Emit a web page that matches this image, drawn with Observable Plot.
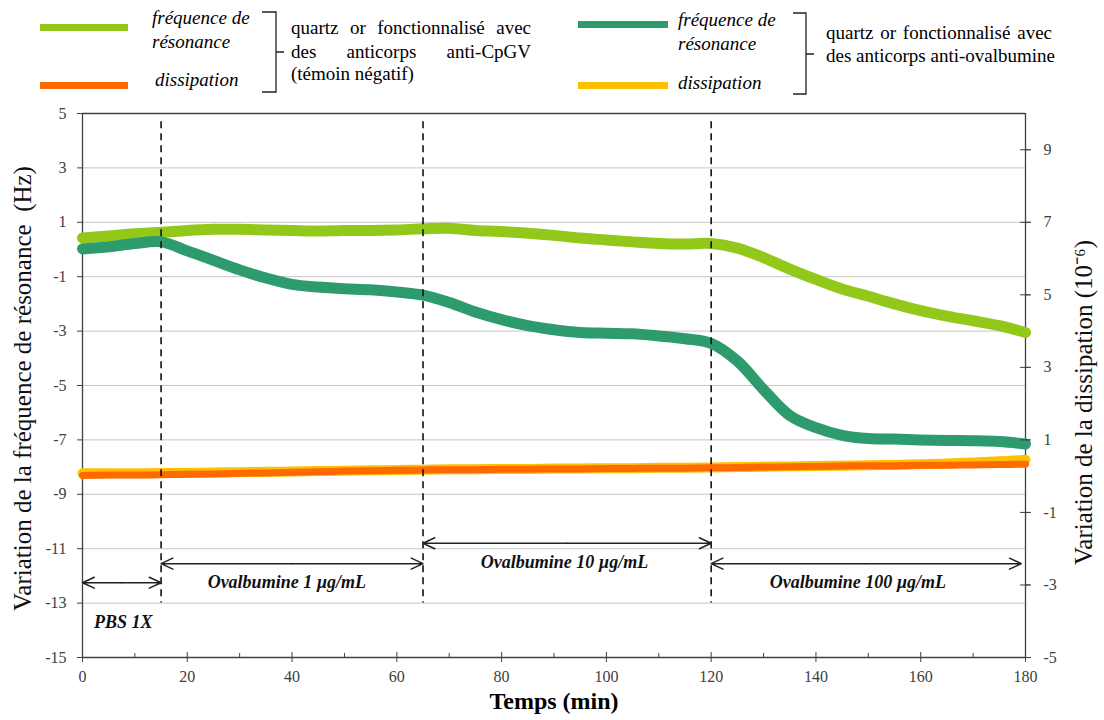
<!DOCTYPE html>
<html><head><meta charset="utf-8">
<script src="https://cdn.jsdelivr.net/npm/d3@7"></script>
<script src="https://cdn.jsdelivr.net/npm/@observablehq/plot@0.6"></script>
<style>
body{margin:0;background:#fff;font-family:"Liberation Serif","Times New Roman",serif;color:#000;}
#wrap{position:relative;width:1104px;height:720px;overflow:hidden;}
#legend{position:absolute;left:0;top:0;width:1104px;height:100px;}
#chart{position:absolute;left:0;top:100px;}
#chart svg, #chart text{font-family:"Liberation Serif","Times New Roman",serif !important;}
.sw{position:absolute;height:7px;}
.it{position:absolute;font-style:italic;font-size:19px;line-height:24px;white-space:nowrap;}
.desc{position:absolute;font-size:19px;line-height:23px;text-align:justify;text-align-last:justify;white-space:nowrap;}
.desc.l{text-align-last:left;}
</style>
</head><body>
<div id="wrap">
  <div id="legend">
    <div class="sw" style="left:40px;top:24px;width:88px;background:#92C81A"></div>
    <div class="it" style="left:152px;top:6px">fréquence de</div>
    <div class="it" style="left:152px;top:30px">résonance</div>
    <div class="sw" style="left:40px;top:82px;width:88px;background:#FF6A00"></div>
    <div class="it" style="left:155px;top:68px">dissipation</div>
    <svg style="position:absolute;left:0;top:0" width="1104" height="100">
      <path d="M262 12 H276 V92 H262 M276 52 H284" fill="none" stroke="#222" stroke-width="1.3"/>
      <path d="M793 13 H806 V94 H793 M806 54 H814" fill="none" stroke="#222" stroke-width="1.3"/>
    </svg>
    <div class="desc" style="left:291px;top:16px;width:240px">quartz or fonctionnalisé avec</div>
    <div class="desc" style="left:291px;top:40px;width:240px">des anticorps anti-CpGV</div>
    <div class="desc l" style="left:291px;top:62px;width:240px">(témoin négatif)</div>

    <div class="sw" style="left:578px;top:21px;width:90px;background:#2E9B6E"></div>
    <div class="it" style="left:678px;top:8px">fréquence de</div>
    <div class="it" style="left:678px;top:32px">résonance</div>
    <div class="sw" style="left:578px;top:82px;width:90px;background:#FFC000"></div>
    <div class="it" style="left:678px;top:71px">dissipation</div>
    <div class="desc" style="left:826px;top:21px;width:226px">quartz or fonctionnalisé avec</div>
    <div class="desc l" style="left:826px;top:44px;width:226px">des anticorps anti-ovalbumine</div>
  </div>
  <div id="chart"></div>
</div>
<script>
// time (min)
const time = [0,5,10,15,20,25,30,35,40,45,50,55,60,65,70,75,80,85,90,95,100,105,110,115,120,125,130,135,140,145,150,155,160,165,170,175,180];
// resonance frequency variation (Hz), quartz anti-CpGV (negative control)
const freqCpGV = [0.42,0.5,0.58,0.63,0.7,0.74,0.74,0.72,0.7,0.68,0.7,0.7,0.72,0.76,0.78,0.7,0.66,0.6,0.52,0.42,0.35,0.28,0.22,0.2,0.22,0.05,-0.3,-0.72,-1.1,-1.45,-1.72,-2.0,-2.25,-2.45,-2.62,-2.8,-3.05];
// resonance frequency variation (Hz), quartz anti-ovalbumin
const freqOva = [0.02,0.1,0.22,0.28,-0.05,-0.4,-0.75,-1.05,-1.28,-1.38,-1.44,-1.48,-1.56,-1.68,-1.95,-2.3,-2.58,-2.8,-2.95,-3.05,-3.08,-3.1,-3.18,-3.28,-3.45,-4.1,-5.15,-6.1,-6.55,-6.83,-6.95,-6.97,-7.0,-7.02,-7.03,-7.06,-7.15];
// dissipation variation (1e-6), quartz anti-CpGV
const dissCpGV = [0.02,0.03,0.03,0.04,0.05,0.06,0.08,0.09,0.11,0.12,0.14,0.15,0.16,0.17,0.18,0.18,0.19,0.19,0.2,0.2,0.21,0.21,0.22,0.22,0.23,0.24,0.25,0.26,0.27,0.28,0.29,0.29,0.3,0.3,0.31,0.32,0.33];
// dissipation variation (1e-6), quartz anti-ovalbumin
const dissOva = [0.08,0.08,0.08,0.09,0.09,0.1,0.11,0.12,0.13,0.14,0.15,0.16,0.17,0.18,0.19,0.19,0.2,0.2,0.21,0.21,0.22,0.22,0.23,0.23,0.24,0.25,0.26,0.27,0.28,0.29,0.3,0.31,0.33,0.35,0.38,0.41,0.45];

const leftTicks = [-15,-13,-11,-9,-7,-5,-3,-1,1,3,5];
const rightTicks = [-5,-3,-1,1,3,5,7,9];
const xMajor = [0,20,40,60,80,100,120,140,160,180];
const xMinor = [10,30,50,70,90,110,130,150,170];
const injections = [15,65,120];
const phases = [
  {label:"PBS 1X", from:0, to:15, ay:-12.25, lx:7.8, ly:-13.7},
  {label:"Ovalbumine 1 µg/mL", from:15, to:65, ay:-11.55, lx:39, ly:-12.23},
  {label:"Ovalbumine 10 µg/mL", from:65, to:120, ay:-10.8, lx:92, ly:-11.5},
  {label:"Ovalbumine 100 µg/mL", from:120, to:179.2, ay:-11.55, lx:148, ly:-12.23}
];

// secondary axis [-5,10] mapped onto primary [-15,5]
const toLeft = d => -15 + (d + 5) * 20 / 15;
const fromLeft = v => Math.round((v + 15) * 15 / 20 - 5);

const rows = (vals) => time.map((t, i) => ({t, v: vals[i]}));
const fCp = rows(freqCpGV), fOv = rows(freqOva);
const dCp = rows(dissCpGV).map(d => ({...d, v: toLeft(d.v)}));
const dOv = rows(dissOva).map(d => ({...d, v: toLeft(d.v)}));

const arrows = phases.flatMap(p => {
  const m = (p.from + p.to) / 2;
  return [{x1:m, x2:p.from, y:p.ay}, {x1:m, x2:p.to, y:p.ay}];
});

const serif = '"Liberation Serif", "Times New Roman", serif';
const axisColor = "#404040";

const chart = Plot.plot({
  width: 1104, height: 620,
  marginLeft: 82, marginRight: 79, marginTop: 13, marginBottom: 63,
  x: {domain: [0, 180]},
  y: {domain: [-15, 5]},
  style: {fontFamily: serif, fontSize: "16px", color: axisColor, background: "white"},
  marks: [
    Plot.ruleY(leftTicks.filter(v => v > -15 && v < 5), {stroke: "#c6c6c6", strokeWidth: 1}),
    Plot.ruleY([5, -15], {stroke: axisColor, strokeWidth: 1.3}),
    Plot.ruleX([0, 180], {stroke: axisColor, strokeWidth: 1.3}),
    Plot.lineY(dOv, {x: "t", y: "v", stroke: "#FFC000", strokeWidth: 10, curve: "catmull-rom"}),
    Plot.lineY(dCp, {x: "t", y: "v", stroke: "#FF6A00", strokeWidth: 7, curve: "catmull-rom"}),
    Plot.lineY(fCp, {x: "t", y: "v", stroke: "#92C81A", strokeWidth: 11, curve: "catmull-rom"}),
    Plot.lineY(fOv, {x: "t", y: "v", stroke: "#2E9B6E", strokeWidth: 11, curve: "catmull-rom"}),
    Plot.ruleX(injections, {y1: 4.7, y2: -13, stroke: "#111", strokeWidth: 1.6, strokeDasharray: "7,5"}),
    Plot.arrow(arrows, {x1: "x1", x2: "x2", y1: "y", y2: "y", stroke: "#222", strokeWidth: 1.5, headLength: 13, headAngle: 50, bend: 0}),
    Plot.text(phases, {x: "lx", y: "ly", text: "label", fontStyle: "italic", fontWeight: "bold", fontSize: 18, fill: "#111"}),
    Plot.axisY(leftTicks, {anchor: "left", tickSize: 5, tickPadding: 11, tickFormat: d => String(d), fontSize: 16, label: null, stroke: axisColor}),
    Plot.axisY(rightTicks.map(toLeft), {anchor: "right", tickSize: 5, tickPadding: 13, tickFormat: d => String(fromLeft(d)), fontSize: 16, label: null, stroke: axisColor}),
    Plot.ruleY(rightTicks.map(toLeft), {x1: 180, x2: 180, insetLeft: -5, insetRight: -5, stroke: axisColor}),
    Plot.axisX(xMajor, {anchor: "bottom", tickSize: 5, tickPadding: 8, tickFormat: d => String(d), fontSize: 16, label: null, stroke: axisColor}),
    Plot.ruleX(xMajor, {y1: -15, y2: -15, insetTop: -5, insetBottom: 0, stroke: axisColor}),
    Plot.ruleX(xMinor, {y1: -15, y2: -15, insetTop: -4, insetBottom: 0, stroke: axisColor}),
    Plot.text(["Variation de la fréquence de résonance  (Hz)"], {frameAnchor: "left", textAnchor: "middle", dx: -60, dy: 3, rotate: -90, fontSize: 25, fill: "#111"}),
    Plot.text(["Variation de la dissipation (10⁻⁶)"], {frameAnchor: "right", textAnchor: "middle", dx: 58, dy: 17, rotate: -90, fontSize: 25, fill: "#111"}),
    Plot.text(["Temps (min)"], {frameAnchor: "bottom", dy: 51, fontSize: 24, fontWeight: "bold", fill: "#000"})
  ]
});
document.getElementById("chart").appendChild(chart);
</script>
</body></html>
